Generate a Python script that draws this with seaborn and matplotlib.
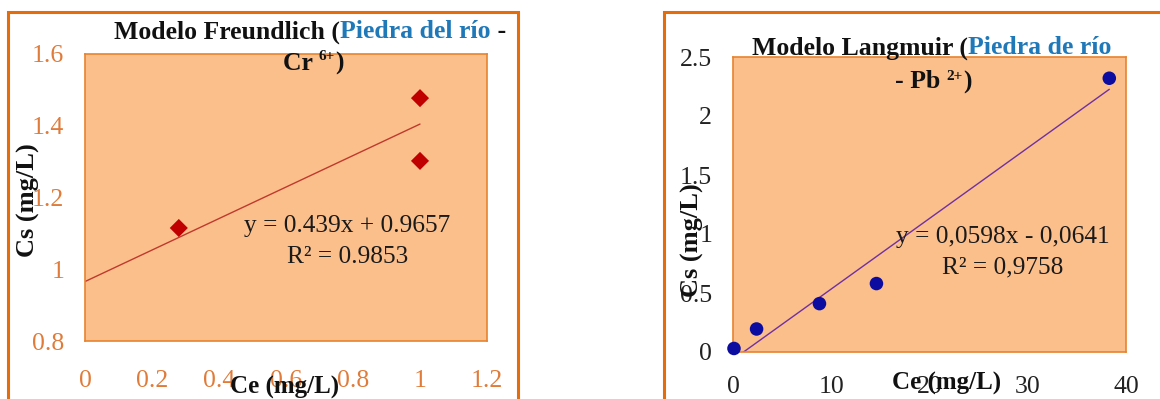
import numpy as np
import pandas as pd
import matplotlib
matplotlib.use('Agg')
import matplotlib.pyplot as plt
from matplotlib.patches import Rectangle
import seaborn as sns

# Freundlich model data (Piedra del rio - Cr 6+)
fr_ce = [0.28, 1.0, 1.0]
fr_cs = [1.115, 1.477, 1.302]
fr_slope, fr_intercept = 0.439, 0.9657
fr_xticks = [0, 0.2, 0.4, 0.6, 0.8, 1.0, 1.2]
fr_xlabels = ['0', '0.2', '0.4', '0.6', '0.8', '1', '1.2']
fr_yticks = [0.8, 1.0, 1.2, 1.4, 1.6]
fr_ylabels = ['0.8', '1', '1.2', '1.4', '1.6']

# Langmuir model data (Piedra de rio - Pb 2+)
lg_ce = [0.1, 2.4, 8.8, 14.6, 38.3]
lg_cs = [0.03, 0.195, 0.41, 0.58, 2.32]
lg_slope, lg_intercept = 0.0598, -0.0641
lg_xticks = [0, 10, 20, 30, 40]
lg_xlabels = ['0', '10', '20', '30', '40']
lg_yticks = [0, 0.5, 1.0, 1.5, 2.0, 2.5]
lg_ylabels = ['0', '0.5', '1', '1.5', '2', '2.5']

sns.set_style('white')
plt.rcParams['font.family'] = ['Liberation Serif', 'DejaVu Serif']

W, H = 1160, 399
fig = plt.figure(figsize=(W / 100, H / 100), dpi=100)
fig.patch.set_facecolor('white')

FILL = '#FBBF8C'
EDGE = '#E8832F'
FRAME = '#E46C0A'
BLUE = '#1F78B8'
INK = '#111111'


def px(x, y):
    return x / W, (H - y) / H


def make_axes(l, t, r, b):
    x0, y1 = px(l, t)
    x1, y0 = px(r, b)
    ax = fig.add_axes([x0, y0, x1 - x0, y1 - y0])
    ax.set_facecolor(FILL)
    for s in ax.spines.values():
        s.set_color(EDGE)
        s.set_linewidth(1.2)
    return ax


def colored_line(cx, cy, parts, size=18.5):
    # parts: (text, color, scale, dy in px); drawn side by side, centred on cx
    r = fig.canvas.get_renderer()
    texts = []
    for s, c, k, dy in parts:
        t = fig.text(0, 0, s, color=c, fontsize=size * k, fontweight='bold',
                     ha='left', va='center')
        texts.append((t, dy))
    widths = [t.get_window_extent(renderer=r).width for t, _ in texts]
    x = cx - sum(widths) / 2
    for (t, dy), w in zip(texts, widths):
        t.set_position(px(x, cy + dy))
        x += w


# outer frames
fig.patches.append(Rectangle(px(8, 420), 510 / W, 408 / H, transform=fig.transFigure,
                             fill=False, edgecolor=FRAME, linewidth=2.2))
fig.patches.append(Rectangle(px(664, 420), 520 / W, 408 / H, transform=fig.transFigure,
                             fill=False, edgecolor=FRAME, linewidth=2.2))

# ---- Freundlich
ax1 = make_axes(85, 54, 487, 341)
sns.scatterplot(x=fr_ce, y=fr_cs, marker='D', s=85, color='#C00000',
                edgecolor='none', ax=ax1, zorder=3)
xl = np.array([0, max(fr_ce)])
sns.lineplot(x=xl, y=fr_slope * xl + fr_intercept, color='#C0392B', lw=1.0, ax=ax1)
ax1.set_xlim(0, 1.2)
ax1.set_ylim(0.8, 1.6)
ax1.set_xticks(fr_xticks, fr_xlabels)
ax1.set_yticks(fr_yticks, fr_ylabels)
ax1.tick_params(axis='both', length=0, labelsize=18.5, colors='#E07B39')
ax1.tick_params(axis='x', pad=21)
ax1.tick_params(axis='y', pad=15)
ax1.set_xlabel('')
ax1.set_ylabel('')

fig.text(*px(347, 226), 'y = 0.439x + 0.9657', fontsize=18.3, ha='center', va='center', color='#1a1a1a')
fig.text(*px(348, 257), 'R\u00b2 = 0.9853', fontsize=18.3, ha='center', va='center', color='#1a1a1a')
fig.text(*px(28, 200), 'Cs (mg/L)', fontsize=19, fontweight='bold', rotation=90,
         ha='center', va='center', color=INK)
fig.text(*px(285, 387), 'Ce (mg/L)', fontsize=18, fontweight='bold',
         ha='center', va='center', color=INK)
colored_line(310, 32, [('Modelo Freundlich (', INK, 1, 0), ('Piedra del río', BLUE, 1, 0),
                       (' -', INK, 1, 0)])
colored_line(313, 63, [('Cr ', INK, 1, 0), ('6+', INK, 0.6, -6), (')', INK, 1, 0)])

# ---- Langmuir
ax2 = make_axes(733, 57, 1126, 352)
xl2 = np.array([min(lg_ce), max(lg_ce)])
sns.lineplot(x=xl2, y=lg_slope * xl2 + lg_intercept, color='#7030A0', lw=1.0, ax=ax2)
sns.scatterplot(x=lg_ce, y=lg_cs, marker='o', s=95, color='#0C0CA0',
                edgecolor='none', ax=ax2, zorder=3, clip_on=False)
ax2.set_xlim(0, 40)
ax2.set_ylim(0, 2.5)
ax2.set_xticks(lg_xticks, lg_xlabels)
ax2.set_yticks(lg_yticks, lg_ylabels)
ax2.tick_params(axis='both', length=0, labelsize=18.5, colors='#222222')
ax2.tick_params(axis='x', pad=17)
ax2.tick_params(axis='y', pad=15)
ax2.set_xlabel('')
ax2.set_ylabel('')

fig.text(*px(1003, 237), 'y = 0,0598x - 0,0641', fontsize=18.3, ha='center', va='center', color='#1a1a1a')
fig.text(*px(1003, 267), 'R\u00b2 = 0,9758', fontsize=18.3, ha='center', va='center', color='#1a1a1a')
fig.text(*px(692, 240), 'Cs (mg/L)', fontsize=19, fontweight='bold', rotation=90,
         ha='center', va='center', color=INK)
fig.text(*px(947, 383), 'Ce (mg/L)', fontsize=18, fontweight='bold',
         ha='center', va='center', color=INK)
colored_line(932, 48, [('Modelo Langmuir (', INK, 1, 0), ('Piedra de río', BLUE, 1, 0)])
colored_line(933, 82, [('- Pb ', INK, 1, 0), ('2+', INK, 0.6, -6), (')', INK, 1, 0)])

fig.savefig('out.png', dpi=100, facecolor='white')
